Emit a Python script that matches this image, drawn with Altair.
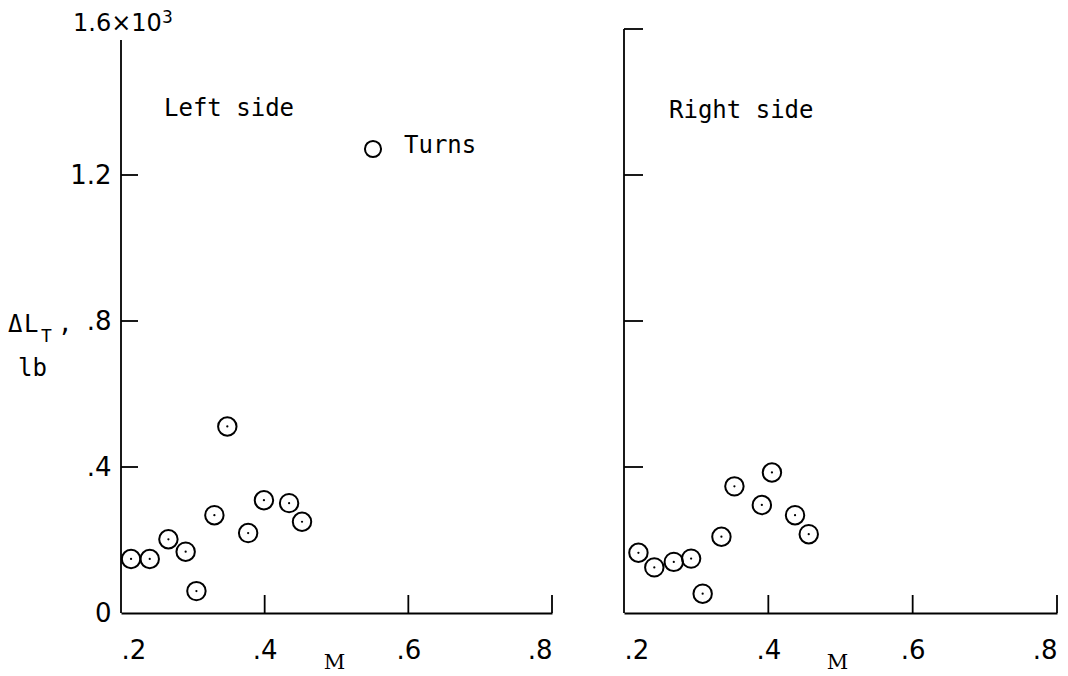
import altair as alt
import pandas as pd

# ---- data (values in 10^3 lb) ----
left_M = [0.214, 0.240, 0.266, 0.290, 0.305, 0.330, 0.348, 0.377, 0.399, 0.434, 0.452]
left_L = [0.148, 0.148, 0.202, 0.168, 0.060, 0.268, 0.511, 0.219, 0.309, 0.301, 0.250]
right_M = [0.220, 0.242, 0.269, 0.293, 0.309, 0.335, 0.353, 0.391, 0.405, 0.437, 0.456]
right_L = [0.165, 0.125, 0.140, 0.149, 0.053, 0.209, 0.347, 0.296, 0.385, 0.268, 0.216]

x_label_values = [0.2, 0.4, 0.6, 0.8]
x_inner_ticks = [0.4, 0.6, 0.8]
y_label_values = [0, 0.4, 0.8, 1.2]
left_y_ticks = [0.4, 0.8, 1.2]
right_y_ticks = [0.4, 0.8, 1.2, 1.6]

MONO = "DejaVu Sans Mono"
SANS = "DejaVu Sans"
SERIF = "DejaVu Serif"
H = 584
WL = 431
WR = 433
LW = 1.8

xscale = alt.Scale(domain=[0.2, 0.8], nice=False, zero=False)
yscale = alt.Scale(domain=[0, 1.6], nice=False, zero=True)

x_label_expr = "substring(format(datum.value, '.1f'), 1)"
y_label_expr = ("datum.value == 0 ? '0' : (datum.value < 1 ? "
                "substring(format(datum.value, '.1f'), 1) : format(datum.value, '.1f'))")


def x_axis():
    return alt.Axis(values=x_label_values, labelExpr=x_label_expr, ticks=False, grid=False,
                    domainColor="black", domainWidth=LW, labelFont=SANS, labelFontSize=26,
                    labelColor="black", labelBaseline="middle", labelPadding=37,
                    title="M", titleFont=SERIF, titleFontSize=21, titleFontWeight="normal",
                    titleColor="black", titleX=213, titleY=49, titleBaseline="middle",
                    titleAlign="center")


def text(t, x, y, size=24, font=MONO, align="left"):
    return alt.Chart(pd.DataFrame({"t": [t]})).mark_text(
        font=font, fontSize=size, color="black", align=align, baseline="middle"
    ).encode(x=alt.value(x), y=alt.value(y), text="t:N")


def panel(Ms, Ls, yticks, tick_len, show_labels):
    df = pd.DataFrame({"M": Ms, "L": Ls})
    yaxis = alt.Axis(values=y_label_values, labelExpr=y_label_expr, ticks=False, grid=False,
                     domain=False, labelFont=SANS, labelFontSize=26,
                     labelColor="black", labelBaseline="middle", labelPadding=10,
                     labels=show_labels, title=None)
    circles = alt.Chart(df).mark_point(
        shape="circle", filled=False, size=340, strokeWidth=2, color="black", opacity=1
    ).encode(
        x=alt.X("M:Q", scale=xscale, axis=x_axis()),
        y=alt.Y("L:Q", scale=yscale, axis=yaxis),
    )
    dots = alt.Chart(df).mark_point(
        shape="circle", filled=True, size=5, color="black", opacity=1
    ).encode(x=alt.X("M:Q", scale=xscale), y=alt.Y("L:Q", scale=yscale))
    xt = alt.Chart(pd.DataFrame({"v": x_inner_ticks})).mark_rule(
        color="black", strokeWidth=LW
    ).encode(x=alt.X("v:Q", scale=xscale), y=alt.value(H), y2=alt.value(H - 18))
    yt = alt.Chart(pd.DataFrame({"v": yticks})).mark_rule(
        color="black", strokeWidth=LW
    ).encode(y=alt.Y("v:Q", scale=yscale), x=alt.value(0), x2=alt.value(tick_len))
    return [circles, dots, xt, yt]


def y_line(top):
    return alt.Chart(pd.DataFrame({"t": [0]})).mark_rule(
        color="black", strokeWidth=LW
    ).encode(x=alt.value(0), y=alt.value(top), y2=alt.value(H))


left_layers = panel(left_M, left_L, left_y_ticks, 17, True)
legend_circle = alt.Chart(pd.DataFrame({"t": ["Turns"]})).mark_point(
    shape="circle", filled=False, size=260, strokeWidth=2, color="black", opacity=1
).encode(x=alt.value(252), y=alt.value(120))

no_stroke = alt.ViewBackground(stroke="transparent", strokeWidth=0)

left = alt.layer(
    y_line(11),
    *left_layers,
    text("Left side", 43, 80),
    legend_circle,
    text("Turns", 283, 117),
    text("1.6\u00d710", -48, -5, size=24, font=SANS),
    text("3", 41, -11, size=17, font=SANS),
    text("\u0394", -113, 296),
    text("L", -97, 296),
    text("T", -80, 308, size=18),
    text(",", -63, 296),
    text("lb", -103, 340),
).properties(width=WL, height=H, view=no_stroke)

right_layers = panel(right_M, right_L, right_y_ticks, 19, False)
right = alt.layer(
    y_line(0),
    *right_layers,
    text("Right side", 45, 82),
).properties(width=WR, height=H, view=no_stroke)

chart = alt.hconcat(left, right, spacing=72, bounds="flush").properties(
    padding={"left": 0, "top": 1, "right": 0, "bottom": 0}
).configure_view(stroke="transparent", strokeWidth=0).configure(background="white")

chart.save("out.html", embed_options={"renderer": "svg", "actions": False})
